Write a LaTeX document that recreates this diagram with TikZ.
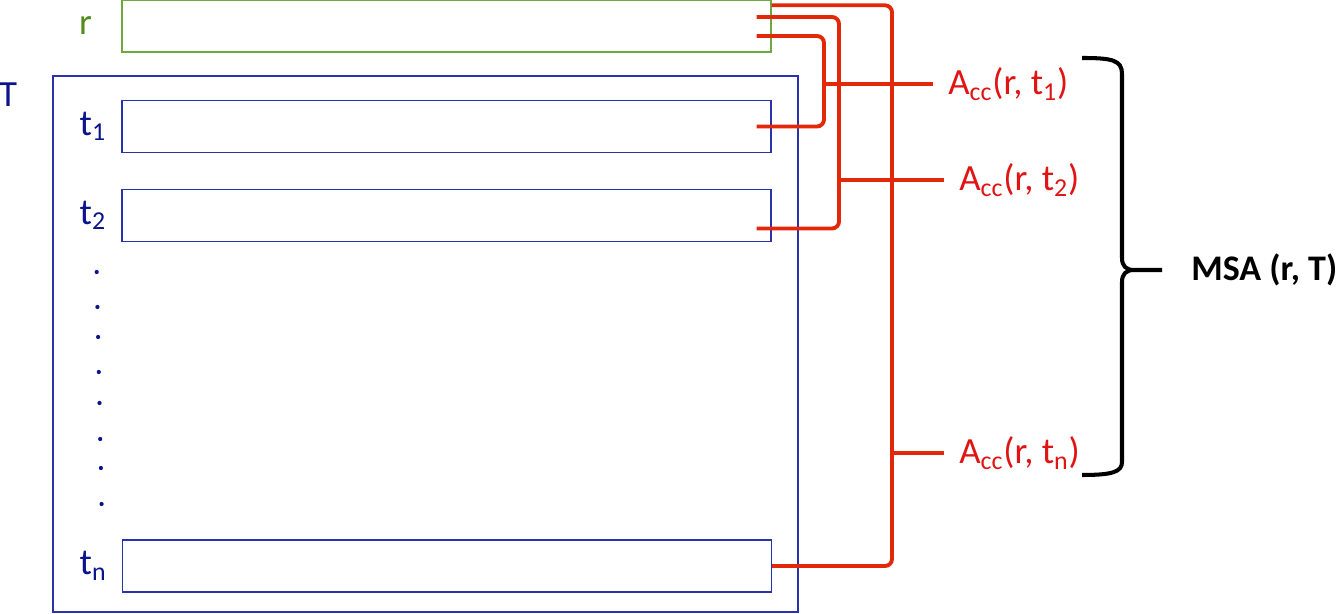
\documentclass[tikz,border=0pt]{standalone}
\usepackage{fontspec}
\setmainfont{Carlito}
\usepackage{xcolor}
\usepackage{tikz}
\usetikzlibrary{positioning, calc}
\definecolor{refgreen}{RGB}{112,168,64}
\definecolor{reftext}{RGB}{84,140,30}
\definecolor{setblue}{RGB}{40,50,170}
\definecolor{setnavy}{RGB}{10,20,140}
\definecolor{linkred}{RGB}{226,40,8}
\definecolor{accred}{RGB}{225,20,20}

\begin{document}
\begin{tikzpicture}[
  x=0.02cm, y=-0.02cm,
  seqbox/.style={rectangle, draw, line width=0.8pt, minimum width=12.98cm,
                 minimum height=1.04cm, inner sep=0pt},
  setbox/.style={rectangle, draw=setblue, line width=0.8pt, minimum width=14.9cm,
                 minimum height=10.72cm, inner sep=0pt},
  lab/.style={inner sep=0pt, font=\fontsize{21}{25}\selectfont},
  acc/.style={lab, text=accred, anchor=west, inner xsep=0.3cm},
  link/.style={draw=linkred, line width=2.2pt, rounded corners=4pt},
  brace/.style={draw=black, line width=2.3pt},
]
\useasboundingbox (0,0) rectangle (1341,614);

% Reference sequence and the set T
\node[seqbox, draw=refgreen] at (446.5, 26)  (r)  {};
\node[setbox]                at (425.5, 344) (T)  {};
\node[seqbox, draw=setblue]  at (446.5, 126.5) (t1) {};
\node[seqbox, draw=setblue]  at (446.5, 215.5) (t2) {};
\node[seqbox, draw=setblue]  at (447, 566)   (tn) {};

% Left labels
\node[lab, text=reftext, left=0.58cm of r]  (rlab)  {r};
\node[lab, text=setnavy, anchor=north east] at ([xshift=-0.7cm, yshift=-0.14cm]T.north west) (Tlab) {T};
\node[lab, text=setnavy, left=0.3cm of t1] (t1lab) {t\textsubscript{1}};
\node[lab, text=setnavy, left=0.3cm of t2] (t2lab) {t\textsubscript{2}};
\node[lab, text=setnavy, left=0.3cm of tn] (tnlab) {t\textsubscript{n}};
\foreach \yy [count=\i] in {272, 307, 337, 372, 403, 439, 468, 504}
  \fill[setnavy] ({96+0.7*\i}, \yy) circle (1.2pt);

% Alignment scores
\node[acc] at (933, 84)  (a1) {A\textsubscript{cc}(r, t\textsubscript{1})};
\node[acc] at (944, 180) (a2) {A\textsubscript{cc}(r, t\textsubscript{2})};
\node[acc] at (944, 453) (an) {A\textsubscript{cc}(r, t\textsubscript{n})};

% Collector columns and line ends
\coordinate (c1) at (824, 0);
\coordinate (c2) at (839, 0);
\coordinate (c3) at (892, 0);
\coordinate (r1) at ([yshift=-0.12cm]r.north east);
\coordinate (r2) at ([xshift=-0.3cm, yshift=0.18cm]r.east);
\coordinate (r3) at ([xshift=-0.3cm, yshift=-0.2cm]r.east);
\coordinate (t1end) at ([xshift=-0.3cm]t1.east);
\coordinate (t2end) at ([xshift=-0.3cm, yshift=-0.26cm]t2.east);

% Pairwise links
\draw[link] (r3) -| (c1 |- t1end) -- (t1end);
\draw[link] (r2) -| (c2 |- t2end) -- (t2end);
\draw[link] (r1) -| (c3 |- tn.east) -- (tn.east);
\draw[link] (c1 |- a1.west) -- (a1.west);
\draw[link] (c2 |- a2.west) -- (a2.west);
\draw[link] (c3 |- an.west) -- (an.west);

% Brace and MSA
\coordinate (tip) at (1162, 270);
\draw[brace] (1082, 58) .. controls (1112, 58) and (1122, 60) .. (1122, 74)
  -- (1122, 258) .. controls (1122, 266) and (1126, 270) .. (1134, 270) -- (tip)
  (1134, 270) .. controls (1126, 270) and (1122, 274) .. (1122, 282)
  -- (1122, 462) .. controls (1122, 472) and (1112, 475) .. (1082, 475);
\node[lab, font=\fontsize{20.5}{24}\selectfont\bfseries, right=0.58cm of tip] (msa) {MSA (r, T)};
\end{tikzpicture}
\end{document}
